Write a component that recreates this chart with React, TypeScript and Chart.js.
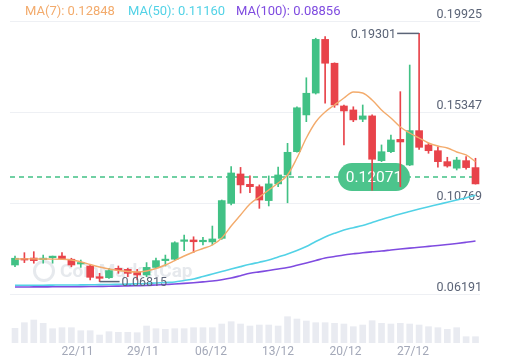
import React, { useEffect, useRef } from "react";
import { Chart, registerables } from "chart.js";

Chart.register(...registerables);

// ---- data ----
const opens = [
  0.0765, 0.0797, 0.08, 0.0792, 0.0802, 0.081, 0.0794, 0.077, 0.076, 0.0706,
  0.0701, 0.0748, 0.0743, 0.073, 0.0715, 0.0753, 0.0787, 0.0794, 0.0884, 0.0891,
  0.0882, 0.0881, 0.0899, 0.1075, 0.1223, 0.1171, 0.1159, 0.1089, 0.1173, 0.1218,
  0.1335, 0.152, 0.163, 0.19, 0.178, 0.1565, 0.1545, 0.1498, 0.1515, 0.129,
  0.1335, 0.1397, 0.1268, 0.1441, 0.1369, 0.134, 0.1285, 0.1252, 0.129, 0.1255,
];
const highs = [
  0.081, 0.0827, 0.0832, 0.0815, 0.081, 0.0827, 0.0799, 0.079, 0.0765, 0.0723,
  0.0748, 0.076, 0.0748, 0.0743, 0.0777, 0.08, 0.0815, 0.0882, 0.0916, 0.0907,
  0.0904, 0.0961, 0.1092, 0.126, 0.1256, 0.1214, 0.1168, 0.1213, 0.1257, 0.1377,
  0.1561, 0.1707, 0.1906, 0.1914, 0.1782, 0.157, 0.1561, 0.157, 0.152, 0.1369,
  0.1419, 0.1637, 0.1771, 0.19301, 0.1377, 0.136, 0.1307, 0.1307, 0.131, 0.1302,
];
const lows = [
  0.0756, 0.0777, 0.0774, 0.0774, 0.0774, 0.0794, 0.0756, 0.0753, 0.069, 0.06815,
  0.0697, 0.0723, 0.0706, 0.069, 0.0706, 0.075, 0.076, 0.079, 0.0837, 0.0827,
  0.0866, 0.0866, 0.0894, 0.1067, 0.1127, 0.1129, 0.105, 0.1062, 0.1159, 0.1078,
  0.1332, 0.1486, 0.1625, 0.1579, 0.1558, 0.1369, 0.1486, 0.1486, 0.1142, 0.1285,
  0.133, 0.1159, 0.1265, 0.1347, 0.1327, 0.1257, 0.1257, 0.1243, 0.1247, 0.1172,
];
const closes = [
  0.0799, 0.079, 0.0787, 0.0797, 0.0807, 0.0797, 0.0765, 0.0775, 0.0703, 0.0698,
  0.0737, 0.074, 0.0723, 0.0715, 0.0753, 0.0787, 0.0794, 0.0877, 0.0891, 0.0882,
  0.0887, 0.0896, 0.1089, 0.1228, 0.1168, 0.1159, 0.1092, 0.1173, 0.1218, 0.1332,
  0.1556, 0.1629, 0.19, 0.178, 0.157, 0.154, 0.1495, 0.1515, 0.1297, 0.1335,
  0.1394, 0.1384, 0.1441, 0.1357, 0.134, 0.1285, 0.1263, 0.1293, 0.1255, 0.1173,
];
const volumes = [
  29.4, 40.6, 46, 39.4, 28.6, 30.6, 30.6, 24.6, 24.6, 16,
  22.6, 21.4, 21.4, 20.6, 34, 28.6, 27.4, 28.6, 28.6, 30.6,
  30.6, 30.6, 38, 42.6, 38, 34, 36, 36, 34, 52.6,
  48, 44, 40.6, 40.6, 39.4, 38, 32.6, 36, 44.6, 39.4,
  38, 39.4, 38, 36, 32.6, 30.6, 27.4, 30.6, 12.6, 12.6,
];
const ma7 = [
  0.07952, 0.0796, 0.07957, 0.0795, 0.07948, 0.07937, 0.07902, 0.07816, 0.07675, 0.07549,
  0.07449, 0.07373, 0.07323, 0.07298, 0.07348, 0.07474, 0.0765, 0.07876, 0.08103, 0.08304,
  0.0848, 0.08656, 0.09008, 0.09612, 0.10165, 0.10719, 0.11071, 0.11423, 0.11775, 0.12178,
  0.13033, 0.14039, 0.14844, 0.15347, 0.157, 0.16052, 0.16354, 0.16303, 0.15951, 0.15448,
  0.15046, 0.14593, 0.14291, 0.14039, 0.13788, 0.13637, 0.13536, 0.13335, 0.13184, 0.12848,
];
const ma50 = [
  0.06629, 0.06629, 0.06634, 0.06634, 0.06639, 0.06644, 0.06644, 0.06649, 0.06654, 0.06664,
  0.06669, 0.06679, 0.06689, 0.06704, 0.06719, 0.06744, 0.0677, 0.06795, 0.0687, 0.06946,
  0.07071, 0.07197, 0.07323, 0.07449, 0.07569, 0.07685, 0.07791, 0.07902, 0.08052, 0.08203,
  0.08379, 0.08581, 0.08832, 0.09059, 0.09245, 0.09411, 0.09527, 0.09637, 0.09788, 0.09939,
  0.1008, 0.10216, 0.10342, 0.10467, 0.10583, 0.10694, 0.10809, 0.1092, 0.11031, 0.1116,
];
const ma100 = [
  0.06543, 0.06543, 0.06548, 0.06548, 0.06553, 0.06553, 0.06558, 0.06563, 0.06568, 0.06573,
  0.06578, 0.06588, 0.06599, 0.06609, 0.06619, 0.06644, 0.06669, 0.06694, 0.06724, 0.0676,
  0.068, 0.06845, 0.0691, 0.06996, 0.07112, 0.07232, 0.07303, 0.07373, 0.07449, 0.07524,
  0.07635, 0.07751, 0.07876, 0.08002, 0.08078, 0.08153, 0.08213, 0.08269, 0.08314, 0.08354,
  0.08405, 0.08455, 0.085, 0.0854, 0.08586, 0.08631, 0.08681, 0.08732, 0.08792, 0.08856,
];
const xTickPositions = [6.65, 13.62, 20.86, 27.98, 35.17, 42.35];
const xTickLabels = ["22/11", "29/11", "06/12", "13/12", "20/12", "27/12"];
const priceTicks = [0.06191, 0.10769, 0.15347, 0.19925];
const currentPrice = 0.12071;
const maxPrice = 0.19301;
const minPrice = 0.06815;
const legendLabels = ["MA(7)", "MA(50)", "MA(100)"];

// ---- styles ----
const GREEN = "#41c185";
const RED = "#e8434a";
const PILL = "#4cc48c";
const VOL = "#e9ebf1";
const C_MA7 = "#f3ab6c";
const C_MA50 = "#52d2e6";
const C_MA100 = "#7f4be0";
const AXIS_TEXT = "#5b6477";
const X_TEXT = "#a3a8b8";
const FONT = "Roboto, 'Liberation Sans', sans-serif";

const maxIndex = highs.indexOf(maxPrice);
const minIndex = lows.indexOf(minPrice);

const overlayPlugin = {
  id: "overlay",
  beforeDatasetsDraw(chart: any) {
    const { ctx, chartArea, scales } = chart;
    const ys = scales.y;
    ctx.save();
    // watermark
    ctx.strokeStyle = "rgba(190,196,208,0.38)";
    ctx.lineWidth = 3;
    ctx.beginPath();
    ctx.arc(44, 271, 9.5, 0, Math.PI * 2);
    ctx.stroke();
    ctx.font = `bold 19px ${FONT}`;
    ctx.fillStyle = "rgba(190,196,208,0.38)";
    ctx.textBaseline = "middle";
    ctx.textAlign = "left";
    ctx.fillText("CoinMarketCap", 60, 272);
    // current price dashed line
    const py = ys.getPixelForValue(currentPrice);
    ctx.setLineDash([5, 4]);
    ctx.strokeStyle = GREEN;
    ctx.lineWidth = 1.5;
    ctx.beginPath();
    ctx.moveTo(chartArea.left, py);
    ctx.lineTo(chartArea.right - 2, py);
    ctx.stroke();
    ctx.setLineDash([]);
    // pill
    const pw = 72;
    const ph = 28;
    const pr = chartArea.right - 70;
    const pl = pr - pw;
    const pt = py - ph / 2;
    const r = ph / 2;
    ctx.beginPath();
    ctx.moveTo(pl + r, pt);
    ctx.lineTo(pr - r, pt);
    ctx.arc(pr - r, pt + r, r, -Math.PI / 2, Math.PI / 2);
    ctx.lineTo(pl + r, pt + ph);
    ctx.arc(pl + r, pt + r, r, Math.PI / 2, (3 * Math.PI) / 2);
    ctx.closePath();
    ctx.fillStyle = PILL;
    ctx.fill();
    ctx.fillStyle = "#ffffff";
    ctx.font = `15.5px ${FONT}`;
    ctx.textAlign = "center";
    ctx.fillText(currentPrice.toFixed(5), pl + pw / 2, py + 1);
    ctx.restore();
  },
  afterDatasetsDraw(chart: any) {
    const { ctx, scales } = chart;
    const xs = scales.x;
    const ys = scales.y;
    ctx.save();
    ctx.strokeStyle = "#5b6477";
    ctx.fillStyle = AXIS_TEXT;
    ctx.lineWidth = 1.5;
    ctx.font = `12.5px ${FONT}`;
    ctx.textBaseline = "middle";
    // max
    const hx = xs.getPixelForValue(maxIndex);
    const hy = ys.getPixelForValue(maxPrice);
    ctx.beginPath();
    ctx.moveTo(hx, hy);
    ctx.lineTo(hx - 22, hy);
    ctx.stroke();
    ctx.textAlign = "right";
    ctx.fillText(maxPrice.toFixed(5), hx - 23, hy + 1);
    // min
    const lx = xs.getPixelForValue(minIndex);
    const ly = ys.getPixelForValue(minPrice);
    ctx.beginPath();
    ctx.moveTo(lx, ly);
    ctx.lineTo(lx + 20, ly);
    ctx.stroke();
    ctx.textAlign = "left";
    ctx.fillText(minPrice.toFixed(5), lx + 22, ly + 1);
    ctx.restore();
  },
};

export default function App() {
  const ref = useRef<HTMLCanvasElement | null>(null);

  useEffect(() => {
    if (!ref.current) return;
    const idx = opens.map((_, i) => i);
    const up = idx.map((i) => closes[i] >= opens[i]);
    const colors = up.map((u) => (u ? GREEN : RED));
    const lineDs = (data: number[], color: string, order: number, width: number) => ({
      type: "line" as const,
      data: data.map((v, i) => ({ x: i, y: v })),
      borderColor: color,
      borderWidth: width,
      pointRadius: 0,
      tension: 0.4,
      cubicInterpolationMode: "monotone" as const,
      yAxisID: "y",
      order,
    });
    const chart = new Chart(ref.current, {
      type: "bar",
      data: {
        datasets: [
          {
            type: "bar",
            data: volumes.map((v, i) => ({ x: i, y: v })),
            backgroundColor: VOL,
            barThickness: 6,
            grouped: false,
            yAxisID: "yv",
            order: 10,
          } as any,
          {
            type: "bar",
            data: idx.map((i) => ({ x: i, y: [lows[i], highs[i]] })),
            backgroundColor: colors,
            barThickness: 1,
            grouped: false,
            yAxisID: "y",
            order: 9,
          } as any,
          {
            type: "bar",
            data: idx.map((i) => ({ x: i, y: [opens[i], closes[i]] })),
            backgroundColor: colors,
            barThickness: 7,
            minBarLength: 1.5,
            grouped: false,
            yAxisID: "y",
            order: 8,
          } as any,
          lineDs(ma100, C_MA100, 3, 1.6),
          lineDs(ma50, C_MA50, 2, 1.6),
          lineDs(ma7, C_MA7, 1, 1.4),
        ],
      },
      options: {
        animation: false,
        responsive: false,
        devicePixelRatio: 1,
        layout: { padding: { left: 10, right: 24, top: 21, bottom: 0.6 } },
        plugins: { legend: { display: false }, tooltip: { enabled: false } },
        scales: {
          x: {
            type: "linear",
            min: -0.532,
            max: 49.479,
            offset: false,
            grid: { display: false, drawTicks: false },
            border: { display: false },
            afterBuildTicks: (s: any) => {
              s.ticks = xTickPositions.map((v) => ({ value: v }));
            },
            ticks: {
              autoSkip: false,
              maxRotation: 0,
              padding: 2,
              color: X_TEXT,
              font: { family: FONT, size: 12 },
              callback: (_v: any, i: number) => xTickLabels[i],
            },
          },
          y: {
            type: "linear",
            position: "right",
            min: 0.03726,
            max: 0.19925,
            grid: { color: "#eef0f4", drawTicks: false, lineWidth: 1 },
            border: { display: false },
            afterBuildTicks: (s: any) => {
              s.ticks = priceTicks.map((v) => ({ value: v }));
            },
            ticks: {
              mirror: true,
              padding: 2,
              labelOffset: -6,
              color: AXIS_TEXT,
              font: { family: FONT, size: 12.5 },
              callback: (v: any) => Number(v).toFixed(5),
            },
          },
          yv: {
            type: "linear",
            display: false,
            min: 0,
            max: 644,
          },
        },
      } as any,
      plugins: [overlayPlugin],
    });
    return () => chart.destroy();
  }, []);

  const lastVals = [ma7[ma7.length - 1], ma50[ma50.length - 1], ma100[ma100.length - 1]];
  const legendColors = [C_MA7, C_MA50, C_MA100];
  const legendLeft = [25, 128, 236];

  return (
    <div style={{ position: "fixed", left: 0, top: 0, width: 508, height: 362, background: "#fff" }}>
      <canvas ref={ref} width={508} height={362} style={{ display: "block", width: 508, height: 362 }} />
      {legendLabels.map((l, i) => (
        <span
          key={l}
          style={{
            position: "absolute",
            left: legendLeft[i],
            top: 3,
            lineHeight: "16px",
            fontSize: 13,
            fontFamily: FONT,
            color: legendColors[i],
            whiteSpace: "nowrap",
          }}
        >
          {`${l}: ${lastVals[i].toFixed(5)}`}
        </span>
      ))}
    </div>
  );
}
